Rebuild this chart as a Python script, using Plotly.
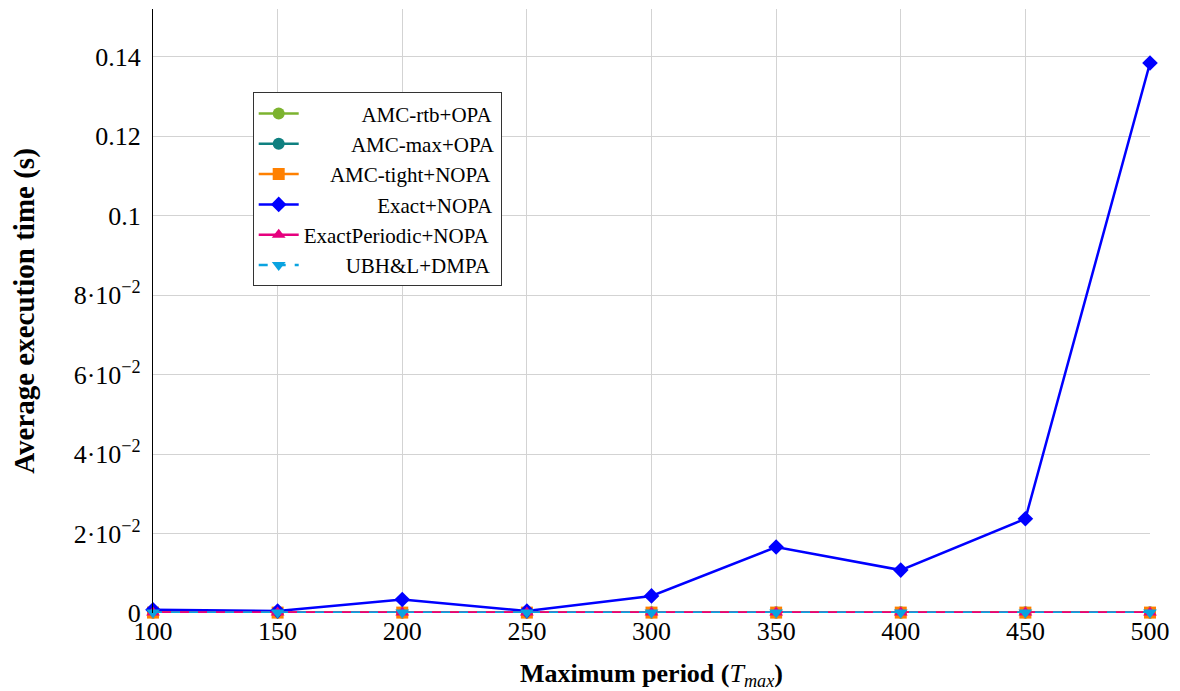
import plotly.graph_objects as go

x_periods = [100, 150, 200, 250, 300, 350, 400, 450, 500]
amc_rtb_opa = [0.0001, 0.0001, 0.0001, 0.0001, 0.0001, 0.0001, 0.0001, 0.0001, 0.0001]
amc_max_opa = [0.0001, 0.0001, 0.0001, 0.0001, 0.0001, 0.0001, 0.0001, 0.0001, 0.0001]
amc_tight_nopa = [0.0001, 0.0001, 0.0001, 0.0001, 0.0001, 0.0001, 0.0001, 0.0001, 0.0001]
exact_nopa = [0.0008, 0.0005, 0.0034, 0.0005, 0.0043, 0.0166, 0.0108, 0.0237, 0.1384]
exact_periodic_nopa = [0.0001, 0.0001, 0.0001, 0.0001, 0.0001, 0.0001, 0.0001, 0.0001, 0.0001]
ubhl_dmpa = [0.0001, 0.0001, 0.0001, 0.0001, 0.0001, 0.0001, 0.0001, 0.0001, 0.0001]

y_tick_vals = [0, 0.02, 0.04, 0.06, 0.08, 0.1, 0.12, 0.14]
y_tick_text = ["0", "2\u00b710<sup>\u22122</sup>", "4\u00b710<sup>\u22122</sup>",
               "6\u00b710<sup>\u22122</sup>", "8\u00b710<sup>\u22122</sup>",
               "0.1", "0.12", "0.14"]
x_tick_vals = [100, 150, 200, 250, 300, 350, 400, 450, 500]

# (name, values, colour, marker, dash, left padding in nbsp for right alignment)
series = [
    ("AMC-rtb+OPA", amc_rtb_opa, "#7CB32F", "circle", "solid", 11),
    ("AMC-max+OPA", amc_max_opa, "#0F8080", "circle", "solid", 9),
    ("AMC-tight+NOPA", amc_tight_nopa, "#FF8000", "square", "solid", 5),
    ("Exact+NOPA", exact_nopa, "#0000FF", "diamond", "solid", 14),
    ("ExactPeriodic+NOPA", exact_periodic_nopa, "#E6007E", "triangle-up", "solid", 0),
    ("UBH&L+DMPA", ubhl_dmpa, "#0AA3E0", "triangle-down", "dash", 8),
]

fig = go.Figure()
for name, vals, color, sym, dash, pad in series:
    fig.add_trace(go.Scatter(
        x=x_periods, y=vals, name="\u00a0" * pad + name, mode="lines+markers",
        line=dict(color=color, width=2.5, dash=dash),
        marker=dict(symbol=sym, size=12, color=color),
        cliponaxis=False,
    ))

font_family = "Liberation Serif, Times New Roman, serif"
fig.update_layout(
    width=1172, height=683,
    margin=dict(l=145, r=30, t=1, b=78),
    plot_bgcolor="white", paper_bgcolor="white",
    font=dict(family=font_family, color="black"),
    showlegend=True,
    legend=dict(
        x=0.1, y=0.862, xanchor="left", yanchor="top",
        bgcolor="white", bordercolor="#333333", borderwidth=1,
        font=dict(size=21, family=font_family),
        tracegroupgap=0, itemwidth=40,
    ),
    xaxis=dict(
        range=[100, 500], tickvals=x_tick_vals,
        showgrid=True, gridcolor="#d3d3d3", gridwidth=1,
        zeroline=False, showline=False,
        ticks="", tickfont=dict(size=26, family=font_family),
        title=dict(text="<b>Maximum period (</b><i>T<sub>max</sub></i><b>)</b>",
                   font=dict(size=26, family=font_family), standoff=20),
    ),
    yaxis=dict(
        range=[0, 0.152], tickvals=y_tick_vals, ticktext=y_tick_text,
        showgrid=True, gridcolor="#d3d3d3", gridwidth=1,
        zeroline=False, showline=True, linecolor="black", linewidth=1.2,
        ticks="", tickfont=dict(size=26, family=font_family),
        ticklabelstandoff=6,
        title=dict(text="<b>Average execution time (s)</b>",
                   font=dict(size=29, family=font_family), standoff=30),
    ),
)

fig.write_html("out.html")
